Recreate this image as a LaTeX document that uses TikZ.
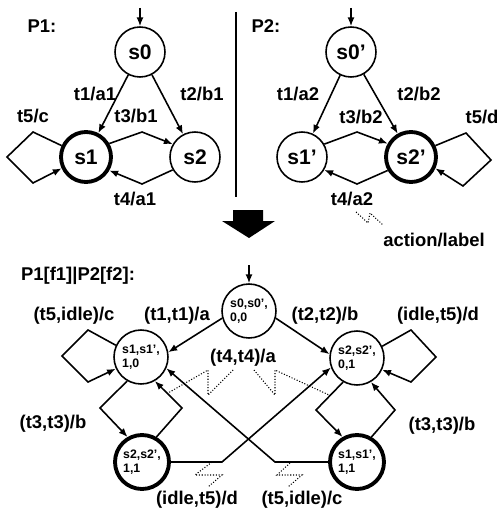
\documentclass[tikz,border=0pt]{standalone}
\usepackage{fontspec}
\setmainfont{Liberation Sans}
\usetikzlibrary{arrows.meta,positioning}

\begin{document}
\begin{tikzpicture}[x=0.02cm, y=-0.02cm,
    state/.style={circle, draw, line width=0.9pt, minimum size=1cm, inner sep=0pt, font=\fontsize{12}{13}\selectfont\bfseries},
    pstate/.style={circle, draw, line width=0.9pt, minimum size=1.08cm, inner sep=0pt, align=left, font=\fontsize{7}{8}\selectfont\bfseries},
    final/.style={line width=2.2pt},
    lbl/.style={font=\fontsize{10.5}{12}\selectfont\bfseries, inner sep=0pt},
    trans/.style={->, >={Latex[length=5pt,width=4pt]}, line width=0.9pt},
    hint/.style={densely dotted, line width=0.6pt}
]
    \useasboundingbox (0,0) rectangle (498,513);

    % process P1
    \node[lbl] (p1) at (42,26) {P1:};
    \node[state] (s0) at (140,52) {s0};
    \node[state, final] (s1) at (86,157) {s1};
    \node[state] (s2) at (195,157) {s2};
    \coordinate (s0in) at (140,8);
    \draw[trans] (s0in) -- (s0);
    \draw[trans] (s0) -- (s1);
    \draw[trans] (s0) -- (s2);
    \draw[trans] (s1.155) -- (33,132) -- (7,157) -- (33,183) -- (s1.205);
    \draw[trans] (s1.30) -- (142,132) -- (s2.150);
    \draw[trans] (s2.210) -- (142,184) -- (s1.330);
    \node[lbl] (t1a1) at (95,94) {t1/a1};
    \node[lbl] (t2b1) at (202,94) {t2/b1};
    \node[lbl] (t3b1) at (136,116) {t3/b1};
    \node[lbl] (t5c) at (33,116) {t5/c};
    \node[lbl] (t4a1) at (135,199) {t4/a1};

    \coordinate (sepTop) at (236,12);
    \coordinate (sepBot) at (236,197);
    \draw[line width=1pt] (sepTop) -- (sepBot);

    % process P2
    \node[lbl] (p2) at (266,26) {P2:};
    \node[state] (s0p) at (351,52) {s0'};
    \node[state] (s1p) at (302,157) {s1'};
    \node[state, final] (s2p) at (411,157) {s2'};
    \coordinate (s0pin) at (351,8);
    \draw[trans] (s0pin) -- (s0p);
    \draw[trans] (s0p) -- (s1p);
    \draw[trans] (s0p) -- (s2p);
    \draw[trans] (s2p.25) -- (466,133) -- (491,160) -- (463,186) -- (s2p.335);
    \draw[trans] (s1p.30) -- (357,132) -- (s2p.150);
    \draw[trans] (s2p.210) -- (357,184) -- (s1p.330);
    \node[lbl] (t1a2) at (298,94) {t1/a2};
    \node[lbl] (t2b2) at (419,94) {t2/b2};
    \node[lbl] (t3b2) at (361,117) {t3/b2};
    \node[lbl] (t5d) at (482,117) {t5/d};
    \node[lbl] (t4a2) at (352,199) {t4/a2};
    \node[lbl] (action) at (434,240) {action/label};
    \draw[hint] (356,212) -- (368,223) -- (370,213) -- (383,225);

    % composition arrow
    \fill (233,210) -- (263,210) -- (263,221) -- (275,221) -- (249,238)
        -- (222,221) -- (233,221) -- cycle;

    % composed process
    \node[lbl] (comp) at (78,276) {P1[f1]|P2[f2]:};
    \node[pstate] (q00) at (249,311) {s0,s0',\\0,0};
    \node[pstate] (q10) at (141,357) {s1,s1',\\1,0};
    \node[pstate] (q01) at (357,358) {s2,s2',\\0,1};
    \node[pstate, final] (q11a) at (142,462) {s2,s2',\\1,1};
    \node[pstate, final] (q11b) at (357,462) {s1,s1',\\1,1};
    \coordinate (q00in) at (249,265);
    \draw[trans] (q00in) -- (q00);
    \draw[trans] (q00.195) -- (q10.10);
    \draw[trans] (q00.345) -- (q01.172);
    \draw[trans] (q10.155) -- (88,330) -- (62,356) -- (88,382) -- (q10.205);
    \draw[trans] (q01.25) -- (411,330) -- (436,357) -- (411,382) -- (q01.335);
    \draw[trans] (q10.240) -- (100,408) -- (q11a.120);
    \draw[trans] (q11a.60) -- (182,408) -- (q10.300);
    \draw[trans] (q01.240) -- (316,410) -- (q11b.120);
    \draw[trans] (q11b.60) -- (395,410) -- (q01.300);
    \draw[trans] (q11a.east) -- (222,462) -- (q01.200);
    \draw[trans] (q11b.west) -- (275,462) -- (q10.336);

    \node[lbl] (l51) at (74,316) {(t5,idle)/c};
    \node[lbl] (l11) at (177,316) {(t1,t1)/a};
    \node[lbl] (l22) at (325,316) {(t2,t2)/b};
    \node[lbl] (l15) at (438,316) {(idle,t5)/d};
    \node[lbl] (l44) at (243,358) {(t4,t4)/a};
    \node[lbl] (l33a) at (53,424) {(t3,t3)/b};
    \node[lbl] (l33b) at (442,426) {(t3,t3)/b};
    \node[lbl] (l15b) at (197,500) {(idle,t5)/d};
    \node[lbl] (l51b) at (302,500) {(t5,idle)/c};

    \draw[hint] (233,370) -- (208,395) -- (208,370) -- (168,393);
    \draw[hint] (254,370) -- (275,395) -- (275,370) -- (329,395);
    \draw[hint] (212,462) -- (195,475) -- (222,475) -- (208,487);
    \draw[hint] (290,463) -- (277,475) -- (302,475) -- (288,487);
\end{tikzpicture}
\end{document}
